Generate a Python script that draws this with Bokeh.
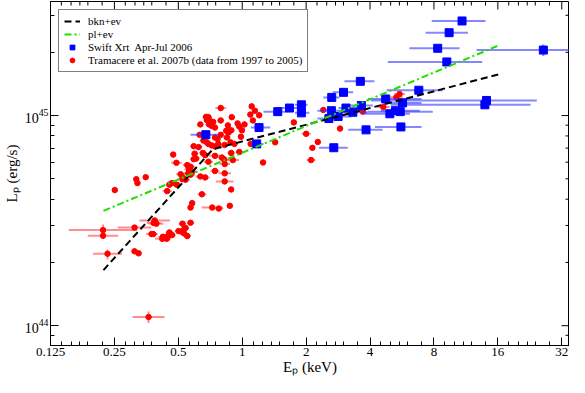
import numpy as np
from bokeh.plotting import figure
from bokeh.models import (FixedTicker, CustomJSTickFormatter, LogTickFormatter,
                          Legend, LegendItem, Range1d)
from bokeh.embed import file_html
from bokeh.resources import INLINE

SERIF = "Liberation Serif"

# ---------------- data ----------------
x_ticks = [0.125, 0.25, 0.5, 1, 2, 4, 8, 16, 32]
x_minor_mult = [1.125, 1.25, 1.375, 1.5, 1.75]
y_ticks = [1e44, 1e45]
y_minor = [9e43, 2e44, 3e44, 4e44, 5e44, 6e44, 7e44, 8e44, 9e44, 2e45, 3e45]
x_lim = (0.125, 34.8)
y_lim = (8.05e43, 3.49e45)

# model curves (E in keV, L in 1e44 erg/s)
bkn_E = [0.222, 0.728, 16.5]
bkn_L = [1.84, 6.92, 15.8]
pl_E = [0.222, 16.2]
pl_L = [3.52, 21.6]

# Swift XRT Apr-Jul 2006
blue_E = [10.85, 9.43, 8.33, 9.20, 26.2, 3.60, 6.79, 3.00, 2.64, 4.74, 5.69, 14.14, 13.9,
          3.64, 3.08, 2.63, 3.32, 5.27, 5.55, 4.96, 2.83, 2.56, 5.59, 3.83, 2.70, 1.47,
          1.67, 1.90, 1.90, 0.674, 1.20, 1.17]
blue_L = [28.2, 24.8, 20.9, 18.0, 20.5, 14.55, 13.2, 12.9, 12.2, 12.0, 11.49, 11.8, 11.25,
          11.17, 10.86, 10.55, 10.37, 10.55, 10.44, 10.2, 9.9, 9.68, 8.83, 8.55, 7.03, 10.44,
          10.86, 11.25, 10.3, 8.11, 8.77, 7.33]
blue_Elo = [7.81, 7.31, 6.13, 4.85, 12.7, 3.03, 4.79, 2.67, 2.41, 3.90, 4.64, 4.04, 5.0,
            3.10, 2.84, 2.26, 2.84, 4.49, 3.90, 3.77, 2.47, 2.26, 4.22, 3.16, 2.30, 1.26,
            1.48, 1.77, 1.77, 0.571, 1.096, 1.096]
blue_Ehi = [13.99, 11.56, 10.56, 13.5, 45.0, 4.19, 8.78, 3.33, 2.87, 6.99, 6.99, 24.4, 22.8,
            4.12, 3.64, 3.10, 3.90, 6.86, 7.90, 6.17, 3.27, 2.94, 6.99, 4.58, 3.14, 1.615,
            1.86, 2.03, 2.07, 0.770, 1.355, 1.26]
blue_vE = [26.2, 14.14, 13.9]
blue_vLlo = [19.2, 11.4, 10.8]
blue_vLhi = [21.8, 12.2, 11.7]

# Tramacere et al. 2007b
red_E = [5.51, 5.32, 4.62, 3.70, 2.41, 1.75, 2.00, 2.89, 1.43, 2.27, 2.14, 2.11,
         0.792, 1.108, 1.147, 1.092, 1.201, 0.893, 0.676, 0.693, 0.708, 0.730, 0.681, 0.792,
         1.123, 0.635, 0.698, 0.718, 0.744, 0.951, 0.969, 1.025, 0.887, 0.841, 0.862, 0.997,
         0.792, 0.847, 0.986, 0.630, 0.744, 0.765, 0.657, 0.681, 0.881, 0.827, 0.919, 1.096,
         0.591, 0.623, 0.718, 0.744, 0.653, 0.669, 0.744, 0.803, 0.821, 0.597, 0.887, 0.473,
         0.490, 0.591, 0.606, 0.693, 0.903, 0.827, 1.253, 0.551, 0.571, 0.561, 0.581, 0.557,
         0.571, 0.744, 0.827, 0.513, 0.528, 0.541, 0.635, 0.669, 0.827, 0.454, 0.467, 0.492,
         0.443, 0.646, 0.887, 0.351, 0.317, 0.321, 0.251, 0.523, 0.581, 0.571, 0.722, 0.776,
         0.874, 0.571, 0.523, 0.501, 0.519, 0.528, 0.541, 0.532, 0.551, 0.454, 0.467, 0.446,
         0.423, 0.441, 0.420, 0.374, 0.381, 0.387, 0.394, 0.383, 0.311, 0.221, 0.221, 0.232,
         0.311, 0.325, 0.362, 0.969, 0.856, 0.771, 0.693]
red_L = [12.66, 12.22, 10.98, 10.44, 10.63, 9.28, 8.19, 8.67, 7.46, 7.49, 7.02, 6.14,
         10.86, 11.06, 10.55, 10.11, 10.04, 9.83, 9.86, 9.83, 9.42, 9.32, 9.52, 9.48,
         9.48, 9.08, 9.08, 8.93, 8.77, 9.18, 8.86, 9.08, 8.51, 8.46, 8.31, 8.51,
         8.10, 7.87, 7.93, 8.10, 7.87, 7.73, 7.60, 7.46, 7.46, 7.25, 7.33, 7.33,
         7.15, 7.08, 7.21, 7.13, 6.64, 6.48, 6.43, 6.31, 6.18, 6.59, 6.64, 6.52,
         5.96, 6.20, 6.24, 6.03, 6.14, 5.88, 5.98, 5.81, 5.71, 5.55, 5.41, 5.31,
         5.23, 5.45, 5.31, 5.26, 5.04, 4.95, 5.13, 5.08, 4.86, 4.69, 4.77, 4.69,
         4.37, 4.22, 4.45, 5.09, 4.98, 4.77, 4.42, 4.98, 3.83, 3.65, 3.65, 3.61,
         3.72, 3.09, 3.06, 2.82, 2.80, 2.85, 2.92, 2.75, 2.67, 2.78, 2.70, 2.67,
         2.65, 2.59, 2.59, 2.73, 2.73, 3.17, 3.06, 3.08, 2.93, 2.85, 2.68, 2.20,
         2.26, 2.21, 1.10, 6.71, 8.98, 7.33, 7.33]
red_dE = [0.06, 0.07, 0.07, 0.03, 0.03, 0.03, 0.05, 0.02, 0.02, 0.02, 0.02, 0.05,
          0.06, 0.02, 0.02, 0.02, 0.02, 0.03, 0.04, 0.04, 0.03, 0.03, 0.03, 0.04,
          0.02, 0.03, 0.04, 0.03, 0.03, 0.03, 0.03, 0.03, 0.04, 0.03, 0.03, 0.03,
          0.03, 0.04, 0.03, 0.04, 0.03, 0.03, 0.04, 0.03, 0.03, 0.04, 0.03, 0.02,
          0.04, 0.04, 0.04, 0.05, 0.04, 0.05, 0.06, 0.05, 0.05, 0.04, 0.04, 0.03,
          0.06, 0.04, 0.04, 0.05, 0.07, 0.06, 0.02, 0.05, 0.05, 0.05, 0.05, 0.05,
          0.05, 0.05, 0.07, 0.05, 0.05, 0.05, 0.05, 0.05, 0.10, 0.04, 0.04, 0.04,
          0.05, 0.05, 0.03, 0.02, 0.02, 0.02, 0.03, 0.04, 0.02, 0.02, 0.12, 0.05,
          0.03, 0.04, 0.04, 0.04, 0.04, 0.04, 0.04, 0.04, 0.04, 0.04, 0.04, 0.05,
          0.05, 0.05, 0.08, 0.06, 0.05, 0.18, 0.08, 0.08, 0.20, 0.45, 0.18, 0.17,
          0.03, 0.03, 0.19, 0.04, 0.03, 0.04, 0.04]
red_vE = [5.51, 0.221, 0.232, 0.362]
red_vLlo = [12.3, 2.70, 2.07, 1.03]
red_vLhi = [13.0, 3.03, 2.30, 1.167]

UNIT = 1e44

# ---------------- figure ----------------
p = figure(width=569, height=377, x_axis_type="log", y_axis_type="log",
           x_range=Range1d(*x_lim), y_range=Range1d(*y_lim),
           output_backend="svg", toolbar_location=None,
           min_border_left=40, min_border_right=0, min_border_top=1, min_border_bottom=30)
p.xgrid.visible = False
p.ygrid.visible = False
p.outline_line_color = "black"
p.outline_line_width = 1
p.background_fill_color = "white"
p.border_fill_color = "white"

x_minor = [b * m for b in x_ticks for m in x_minor_mult]

def style(ax):
    ax.axis_line_color = "black"
    ax.axis_line_width = 1
    ax.major_tick_in = 8
    ax.major_tick_out = 0
    ax.minor_tick_in = 4
    ax.minor_tick_out = 0
    ax.major_tick_line_color = "black"
    ax.minor_tick_line_color = "black"
    ax.major_label_text_font = SERIF
    ax.major_label_text_color = "black"
    ax.axis_label_text_font = SERIF
    ax.axis_label_text_font_style = "normal"
    ax.axis_label_text_font_size = "15px"
    ax.axis_label_text_color = "black"

xa = p.xaxis[0]
xa.ticker = FixedTicker(ticks=x_ticks, minor_ticks=x_minor)
xa.formatter = CustomJSTickFormatter(code="return String(tick);")
style(xa)
xa.major_label_text_font_size = "13px"
xa.major_label_standoff = 2
xa.axis_label = "E\u209a (keV)"
xa.axis_label_standoff = 0

ya = p.yaxis[0]
ya.ticker = FixedTicker(ticks=y_ticks, minor_ticks=y_minor)
ya.formatter = LogTickFormatter()
style(ya)
ya.major_label_text_font_size = "14px"
ya.major_label_standoff = 2
ya.axis_label = "L\u209a (erg/s)"
ya.axis_label_standoff = 2

# mirrored ticks on the top and right frame edges (clipped to the frame: half shows)
x_min_in = [v for v in x_minor if x_lim[0] < v < x_lim[1]]
p.scatter(x_ticks, [y_lim[1]] * len(x_ticks), marker="dash", size=16, angle=np.pi / 2,
          line_color="black", line_width=1)
p.scatter(x_min_in, [y_lim[1]] * len(x_min_in), marker="dash", size=8, angle=np.pi / 2,
          line_color="black", line_width=1)
p.scatter([x_lim[1]] * len(y_ticks), y_ticks, marker="dash", size=16,
          line_color="black", line_width=1)
p.scatter([x_lim[1]] * len(y_minor), y_minor, marker="dash", size=8,
          line_color="black", line_width=1)

# ---------------- data marks ----------------
rE = np.array(red_E)
rL = np.array(red_L) * UNIT
rd = np.array(red_dE)
p.segment(x0=rE / (1 + rd), y0=rL, x1=rE * (1 + rd), y1=rL,
          line_color="#ff3030", line_alpha=0.55, line_width=2)
p.segment(x0=red_vE, y0=np.array(red_vLlo) * UNIT, x1=red_vE, y1=np.array(red_vLhi) * UNIT,
          line_color="#ff3030", line_alpha=0.55, line_width=2)
r_red = p.scatter(rE, rL, marker="circle", size=5.5, fill_color="#ff0000",
                  line_color="#ff0000")

bE = np.array(blue_E)
bL = np.array(blue_L) * UNIT
p.segment(x0=blue_Elo, y0=bL, x1=blue_Ehi, y1=bL,
          line_color="#3535ff", line_alpha=0.6, line_width=2)
p.segment(x0=blue_vE, y0=np.array(blue_vLlo) * UNIT, x1=blue_vE, y1=np.array(blue_vLhi) * UNIT,
          line_color="#3535ff", line_alpha=0.6, line_width=2)
r_blue = p.scatter(bE, bL, marker="square", size=8, fill_color="#0000ff",
                   line_color="#0000ff")

r_bkn = p.line(bkn_E, np.array(bkn_L) * UNIT, line_color="black", line_width=2,
               line_dash="7 4")
r_pl = p.line(pl_E, np.array(pl_L) * UNIT, line_color="#22dd00", line_width=2,
              line_dash="7 3 2 3")

legend = Legend(items=[
    LegendItem(label="bkn+ev", renderers=[r_bkn]),
    LegendItem(label="pl+ev", renderers=[r_pl]),
    LegendItem(label="Swift Xrt  Apr-Jul 2006", renderers=[r_blue]),
    LegendItem(label="Tramacere et al. 2007b (data from 1997 to 2005)", renderers=[r_red]),
], location="top_left")
legend.margin = 8
legend.padding = 5
legend.spacing = 1
legend.label_height = 12
legend.glyph_height = 12
legend.glyph_width = 16
legend.label_standoff = 8
legend.label_text_font = SERIF
legend.label_text_font_size = "11px"
legend.label_text_color = "black"
legend.border_line_color = "black"
legend.border_line_width = 1
legend.background_fill_color = "white"
legend.background_fill_alpha = 1
p.add_layout(legend)

open("out.html", "w").write(file_html(p, INLINE))
